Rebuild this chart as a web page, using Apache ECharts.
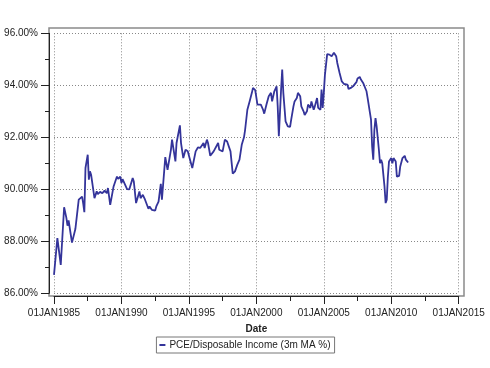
<!DOCTYPE html>
<html>
<head>
<meta charset="utf-8">
<script src="https://cdn.jsdelivr.net/npm/echarts@6/dist/echarts.min.js"></script>
<style>html,body{margin:0;padding:0;background:#fff}#c{width:490px;height:368px}</style>
</head>
<body>
<div id="c"></div>
<script>
const seriesName = 'PCE/Disposable Income (3m MA %)';
const dates = ['1985-01','1985-04','1985-07','1985-10','1985-12','1986-01','1986-02','1986-05','1986-08','1986-11',
'1987-02','1987-03','1987-04','1987-05','1987-07','1987-08','1987-09','1987-10','1988-01','1988-03','1988-04','1988-06','1988-08','1988-10','1988-12',
'1989-01','1989-03','1989-06','1989-09','1989-10','1989-12','1990-01','1990-02','1990-06','1990-08','1990-11','1990-12',
'1991-02','1991-05','1991-06','1991-08','1991-10','1992-01','1992-02','1992-04','1992-05','1992-07','1992-08','1992-10','1992-12',
'1993-01','1993-04','1993-06','1993-09','1993-10','1994-01','1994-02','1994-05','1994-06','1994-08','1994-10','1994-12',
'1995-02','1995-04','1995-07','1995-09','1995-11','1996-02','1996-03','1996-05','1996-06','1996-08','1996-11',
'1997-03','1997-04','1997-07','1997-09','1997-11','1998-02','1998-04','1998-06','1998-08','1998-10','1998-12',
'1999-02','1999-03','1999-05','1999-07','1999-09','1999-10','1999-12','2000-02','2000-03','2000-05','2000-07','2000-08','2000-10','2000-12',
'2001-02','2001-03','2001-05','2001-07','2001-08','2001-09','2001-11','2001-12','2002-01','2002-03','2002-05','2002-07','2002-08','2002-10','2002-11',
'2003-01','2003-02','2003-04','2003-05','2003-07','2003-08','2003-10','2003-11','2004-01','2004-02','2004-04','2004-05','2004-07','2004-08','2004-10','2004-11','2004-12',
'2005-01','2005-02','2005-04','2005-05','2005-06','2005-08','2005-10','2005-12','2006-01','2006-03','2006-05','2006-07','2006-08','2006-10','2006-11',
'2007-01','2007-03','2007-04','2007-06','2007-07','2007-09','2007-10','2007-12','2008-01','2008-03','2008-04','2008-05','2008-07','2008-08','2008-09','2008-10','2008-11','2008-12',
'2009-02','2009-03','2009-04','2009-05','2009-07','2009-08','2009-09','2009-10','2009-11','2010-01','2010-02','2010-03','2010-05','2010-06','2010-08','2010-09','2010-11','2011-01','2011-02','2011-04'];
const values = [86.71,88.12,87.09,89.31,88.9,88.6,88.8,87.95,88.47,89.6,
89.72,89.45,89.12,90.82,91.33,90.37,90.69,90.56,89.66,89.92,89.81,89.9,89.85,89.95,89.85,
90.05,89.40,90.11,90.49,90.40,90.49,90.24,90.39,90.01,90.0,90.43,90.3,
89.47,89.92,89.66,89.79,89.6,89.25,89.34,89.21,89.28,89.18,89.34,89.53,90.21,
89.60,91.24,90.75,91.52,91.91,91.07,91.78,92.46,91.78,91.20,91.52,91.46,
91.14,90.82,91.46,91.61,91.59,91.78,91.59,91.91,91.78,91.29,91.46,
91.78,91.52,91.46,91.91,91.84,91.46,90.60,90.69,90.94,91.14,91.71,
92.0,92.29,93.06,93.38,93.71,93.90,93.81,93.26,93.19,93.26,93.06,92.91,93.26,93.58,
93.71,93.38,93.77,93.96,93.19,92.04,93.84,94.61,93.71,92.61,92.42,92.40,92.68,93.19,93.38,
93.51,93.71,93.58,93.19,93.0,92.86,93.0,93.26,93.13,93.38,93.06,93.19,93.51,93.13,93.06,93.84,93.13,
93.71,94.4,95.2,95.25,95.18,95.12,95.25,95.12,94.86,94.48,94.15,94.05,94.12,94.03,93.86,
93.9,93.96,93.99,94.12,94.26,94.32,94.22,94.09,94.03,93.77,93.51,93.51,92.68,91.65,91.14,92.29,92.74,92.42,
91.52,91.0,91.14,91.0,90.11,89.47,89.6,90.49,91.07,91.2,91.0,91.2,91.07,90.49,90.52,90.88,91.2,91.29,91.14,91.03];
const xTicks = [1985, 1990, 1995, 2000, 2005, 2010, 2015];
const yTicks = [86, 88, 90, 92, 94, 96];

function decYear(s){ const p = s.split('-'); return (+p[0]) + (+p[1]-1)/12; }
const points = dates.map((d,i)=>[decYear(d), values[i]]);

const font = 'Liberation Sans, Arial, sans-serif';
const chart = echarts.init(document.getElementById('c'), null, {renderer:'canvas'});
chart.setOption({
  animation:false,
  backgroundColor:'#fff',
  grid:{left:54, right:31.3, top:33.3, bottom:74.7, containLabel:false},
  graphic:[{type:'rect', shape:{x:49, y:28, width:415, height:268}, style:{fill:'none', stroke:'#8a8a8a', lineWidth:1.5}, z:0, silent:true}],
  xAxis:{
    type:'value', min:xTicks[0], max:xTicks[xTicks.length-1], interval:5,
    name:'Date', nameLocation:'middle', nameGap:28,
    nameTextStyle:{fontFamily:font, fontSize:10, fontWeight:'bold', color:'#222'},
    offset:2.7,
    axisLine:{show:true, onZero:false, lineStyle:{color:'#222', width:1}},
    axisTick:{show:true, length:8, lineStyle:{color:'#222'}},
    minorTick:{show:true, splitNumber:2, length:5, lineStyle:{color:'#222'}},
    axisLabel:{margin:12, fontFamily:font, fontSize:10, color:'#222', formatter:v=>'01JAN'+v},
    splitLine:{show:true, lineStyle:{color:'#888', type:[1,2], width:1}}
  },
  yAxis:{
    type:'value', min:yTicks[0], max:yTicks[yTicks.length-1], interval:2,
    offset:5,
    axisLine:{show:true, onZero:false, lineStyle:{color:'#222', width:1}},
    axisTick:{show:true, length:8, lineStyle:{color:'#222'}},
    minorTick:{show:true, splitNumber:2, length:4, lineStyle:{color:'#222'}},
    axisLabel:{margin:11, fontFamily:font, fontSize:10, color:'#222', formatter:v=>v.toFixed(2)+'%'},
    splitLine:{show:true, lineStyle:{color:'#888', type:[1,2], width:1}}
  },
  legend:{
    data:[seriesName], left:'center', top:337, orient:'horizontal',
    borderColor:'#777', borderWidth:1, padding:[3,4,3,3], borderRadius:0,
    icon:'rect', itemWidth:6, itemHeight:2, itemGap:4,
    textStyle:{fontFamily:font, fontSize:10, color:'#222', padding:[0,0,0,-1]}
  },
  series:[{
    name:seriesName, type:'line', data:points, showSymbol:false, symbol:'none',
    lineStyle:{color:'#34349A', width:1.8}, itemStyle:{color:'#34349A'}, z:3
  }]
});
</script>
</body>
</html>
